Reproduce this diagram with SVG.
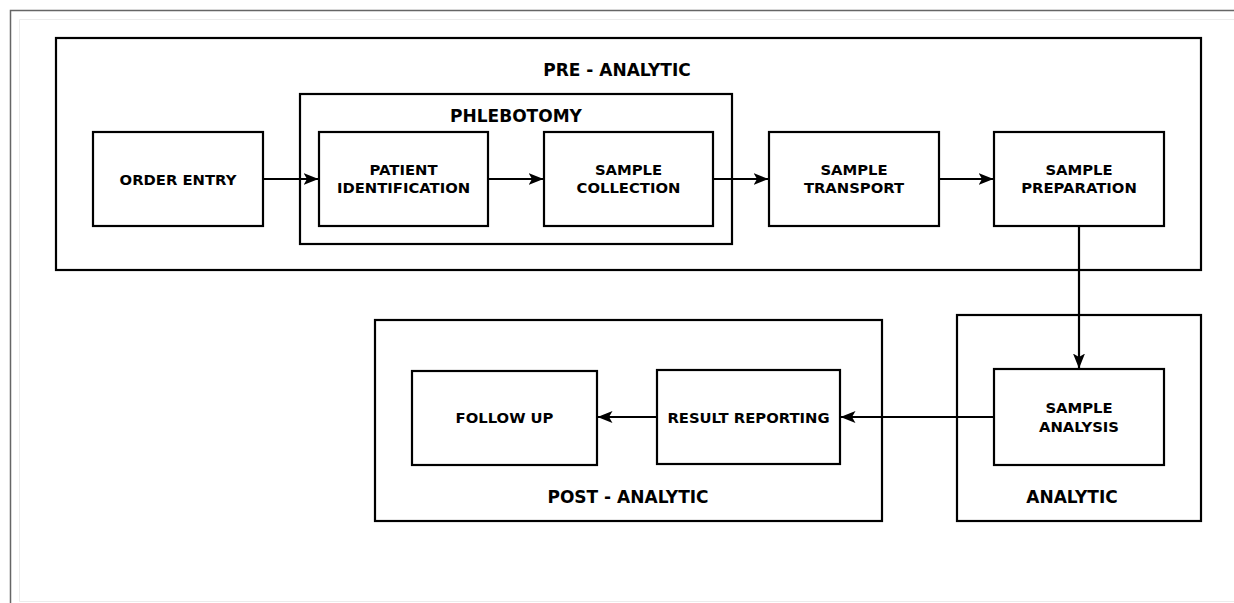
<svg xmlns="http://www.w3.org/2000/svg" width="1234" height="603" viewBox="0 0 1234 603">
<defs>
<style>
.box{fill:#fff;stroke:#000;stroke-width:2.2}
.grp{fill:none;stroke:#000;stroke-width:2.2}
.t{font-family:"DejaVu Sans",sans-serif;font-weight:bold;font-size:14.8px;fill:#000;text-anchor:middle}
.h{font-family:"DejaVu Sans",sans-serif;font-weight:bold;font-size:17px;fill:#000;text-anchor:middle}
.c{fill:none;stroke:#000;stroke-width:2.2}
</style>
<marker id="ah" markerUnits="userSpaceOnUse" markerWidth="16" markerHeight="14" refX="14.5" refY="7" orient="auto" viewBox="0 0 16 14">
<path d="M0,1 L15,7 L0,13 L3.5,7 Z" fill="#000"/>
</marker>
</defs>
<rect width="1234" height="603" fill="#fff"/>
<path d="M10.5,603 V10.5 H1234" fill="none" stroke="#666" stroke-width="1.5"/>
<path d="M1234,19.5 H19.5 V601.5 H1234" fill="none" stroke="#ececec" stroke-width="1"/>

<g id="pre-analytic">
<rect class="grp" x="56" y="38" width="1145" height="232"/>
<text class="h" x="617" y="76">PRE - ANALYTIC</text>
</g>
<g id="phlebotomy">
<rect class="grp" x="300" y="94" width="432" height="150"/>
<text class="h" x="516" y="122">PHLEBOTOMY</text>
</g>
<g id="post-analytic">
<rect class="grp" x="375" y="320" width="507" height="201"/>
<text class="h" x="628" y="503">POST - ANALYTIC</text>
</g>
<g id="analytic">
<rect class="grp" x="957" y="315" width="244" height="206"/>
<text class="h" x="1072" y="503">ANALYTIC</text>
</g>

<g id="order-entry">
<rect class="box" x="93" y="132" width="170" height="94"/>
<text class="t" x="178" y="184.5">ORDER ENTRY</text>
</g>
<g id="patient-identification">
<rect class="box" x="319" y="132" width="169" height="94"/>
<text class="t" x="403.5" y="174.5">PATIENT</text>
<text class="t" x="403.5" y="193">IDENTIFICATION</text>
</g>
<g id="sample-collection">
<rect class="box" x="544" y="132" width="169" height="94"/>
<text class="t" x="628.5" y="174.5">SAMPLE</text>
<text class="t" x="628.5" y="193">COLLECTION</text>
</g>
<g id="sample-transport">
<rect class="box" x="769" y="132" width="170" height="94"/>
<text class="t" x="854" y="174.5">SAMPLE</text>
<text class="t" x="854" y="193">TRANSPORT</text>
</g>
<g id="sample-preparation">
<rect class="box" x="994" y="132" width="170" height="94"/>
<text class="t" x="1079" y="174.5">SAMPLE</text>
<text class="t" x="1079" y="193">PREPARATION</text>
</g>
<g id="sample-analysis">
<rect class="box" x="994" y="369" width="170" height="96"/>
<text class="t" x="1079" y="413">SAMPLE</text>
<text class="t" x="1079" y="431.5">ANALYSIS</text>
</g>
<g id="result-reporting">
<rect class="box" x="657" y="370" width="183" height="94"/>
<text class="t" x="748.5" y="422.5">RESULT REPORTING</text>
</g>
<g id="follow-up">
<rect class="box" x="412" y="371" width="185" height="94"/>
<text class="t" x="504.5" y="423">FOLLOW UP</text>
</g>

<g id="connectors">
<path class="c" d="M263,179 H318" marker-end="url(#ah)"/>
<path class="c" d="M488,179 H543" marker-end="url(#ah)"/>
<path class="c" d="M713,179 H768" marker-end="url(#ah)"/>
<path class="c" d="M939,179 H993" marker-end="url(#ah)"/>
<path class="c" d="M1079,226 V368" marker-end="url(#ah)"/>
<path class="c" d="M994,417 H841" marker-end="url(#ah)"/>
<path class="c" d="M657,417 H598" marker-end="url(#ah)"/>
</g>
</svg>
